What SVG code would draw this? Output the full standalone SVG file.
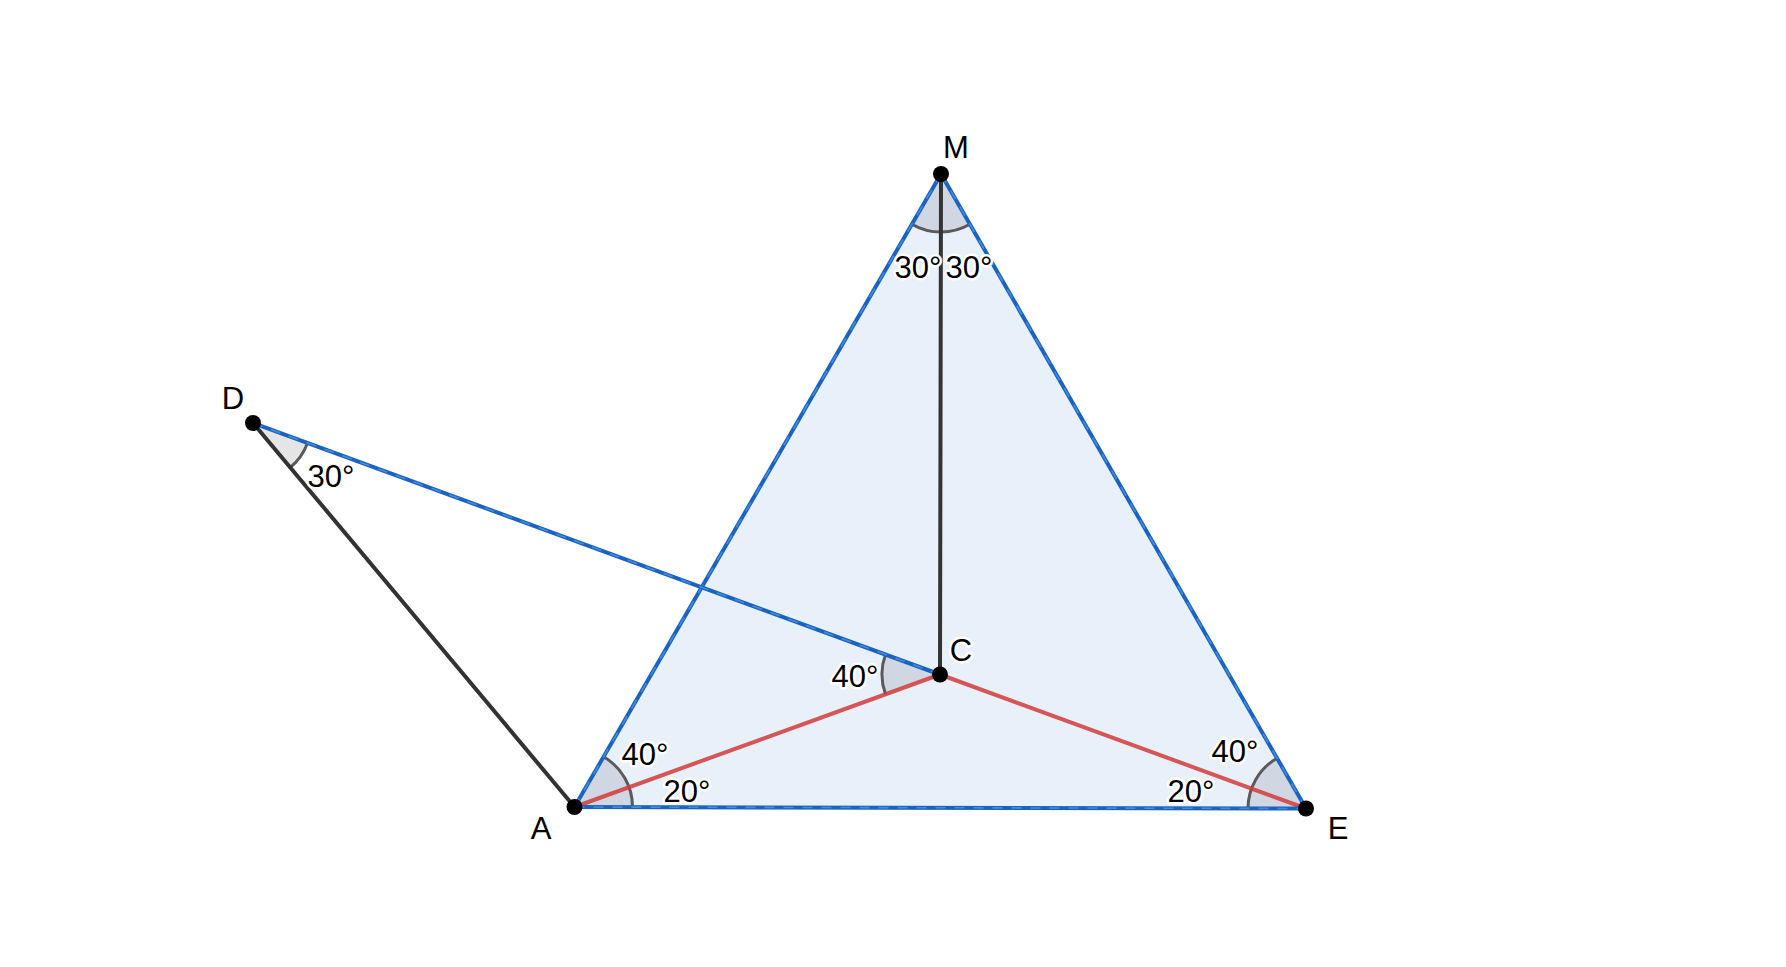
<svg xmlns="http://www.w3.org/2000/svg" width="1786" height="967" viewBox="0 0 1786 967">
<style>
.blue{stroke:#1a63c0;stroke-width:4;fill:none;stroke-linecap:round}
.tex{stroke:#5b9be6;stroke-width:1.6;fill:none;stroke-dasharray:10 9;opacity:0.7}
.red{stroke:#d23a3a;stroke-width:4;fill:none;opacity:0.85;stroke-linecap:round}
.blk{stroke:#333;stroke-width:4;fill:none;stroke-linecap:round}
.sec{fill:#d0d7e2;stroke:none}
.secw{fill:#e5e5e5;stroke:none}
.arc{fill:none;stroke:#5a5a5a;stroke-width:3}
.pt{fill:#000}
text{font-family:"Liberation Sans",Arial,sans-serif;font-size:31px;fill:#000;text-anchor:middle;stroke:#fff;stroke-width:5;stroke-linejoin:round;paint-order:stroke}
</style>
<rect width="1786" height="967" fill="#fff"/>
<polygon points="574.5,807 941,174 1306,808.5" fill="#e8f0f9"/>
<g id="angles">
<path class="sec" d="M941 174 L911.9 224.2 A58 58 0 0 0 940.9 232 Z"/>
<path class="sec" d="M941 174 L940.9 232 A58 58 0 0 0 969.9 224.3 Z"/>
<path class="secw" d="M253 423 L307.5 442.9 A58 58 0 0 1 290.2 467.5 Z"/>
<path class="sec" d="M940 674.5 L885.5 694.3 A58 58 0 0 1 885.5 654.6 Z"/>
<path class="sec" d="M574.5 807 L632.5 807.1 A58 58 0 0 0 603.6 756.8 Z"/>
<path class="sec" d="M1306 808.5 L1248 808.4 A58 58 0 0 1 1277.1 758.2 Z"/>
<path class="arc" d="M911.9 224.2 A58 58 0 0 0 969.9 224.3"/>
<path class="arc" d="M307.5 442.9 A58 58 0 0 1 290.2 467.5"/>
<path class="arc" d="M885.5 694.3 A58 58 0 0 1 885.5 654.6"/>
<path class="arc" d="M632.5 807.1 A58 58 0 0 0 603.6 756.8"/>
<path class="arc" d="M1248 808.4 A58 58 0 0 1 1277.1 758.2"/>
</g>
<g id="connectors">
<line class="blk" x1="253" y1="423" x2="574.5" y2="807"/>
<line class="blk" x1="941" y1="174" x2="940" y2="674.5"/>
<line class="red" x1="574.5" y1="807" x2="940" y2="674.5"/>
<line class="red" x1="940" y1="674.5" x2="1306" y2="808.5"/>
<line class="blue" x1="574.5" y1="807" x2="941" y2="174"/>
<line class="tex" x1="574.5" y1="807" x2="941" y2="174"/>
<line class="blue" x1="941" y1="174" x2="1306" y2="808.5"/>
<line class="tex" x1="941" y1="174" x2="1306" y2="808.5"/>
<line class="blue" x1="574.5" y1="807" x2="1306" y2="808.5"/>
<line class="tex" x1="574.5" y1="807" x2="1306" y2="808.5"/>
<line class="blue" x1="253" y1="423" x2="940" y2="674.5"/>
<line class="tex" x1="253" y1="423" x2="940" y2="674.5"/>
</g>
<g id="angle-labels">
<text x="918" y="278">30°</text>
<text x="969" y="278">30°</text>
<text x="331" y="487">30°</text>
<text x="855" y="687">40°</text>
<text x="645" y="765">40°</text>
<text x="687" y="802">20°</text>
<text x="1235" y="762">40°</text>
<text x="1191" y="802">20°</text>
</g>
<g id="node-M"><circle class="pt" cx="941" cy="174" r="8"/><text x="956" y="158">M</text></g>
<g id="node-D"><circle class="pt" cx="253" cy="423" r="8"/><text x="233" y="409">D</text></g>
<g id="node-C"><circle class="pt" cx="940" cy="674.5" r="8"/><text x="961" y="661">C</text></g>
<g id="node-A"><circle class="pt" cx="574.5" cy="807" r="8"/><text x="541" y="839">A</text></g>
<g id="node-E"><circle class="pt" cx="1306" cy="808.5" r="8"/><text x="1338" y="839">E</text></g>
</svg>
